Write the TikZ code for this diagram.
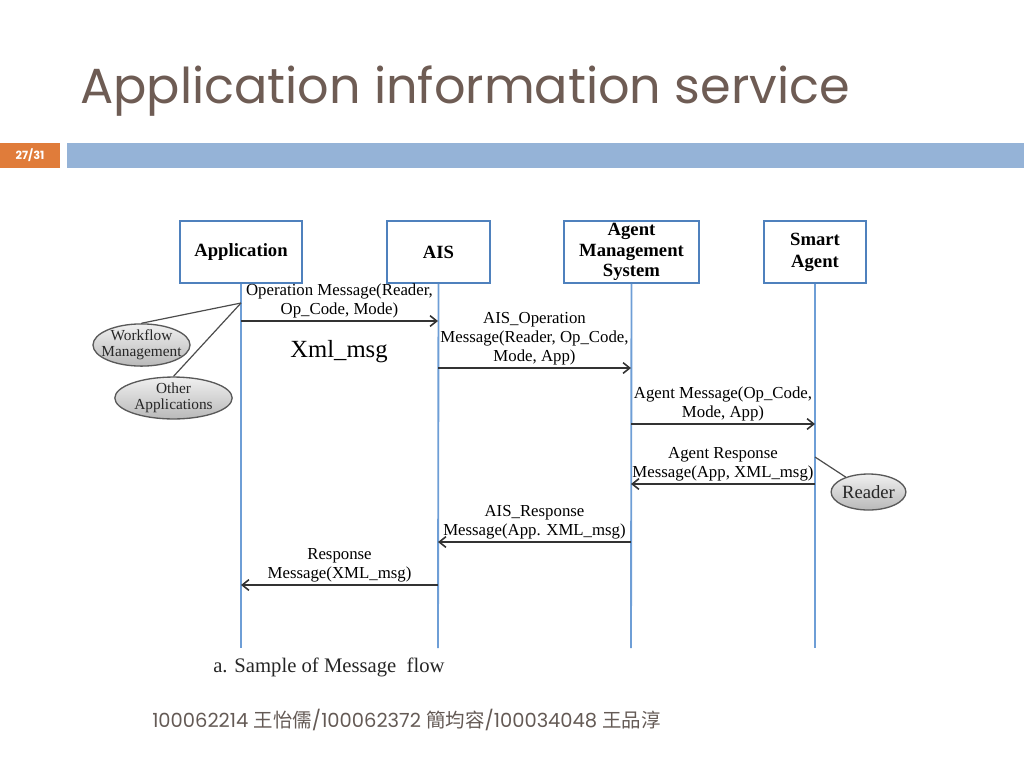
\documentclass[tikz,border=0pt]{standalone}
\usepackage{fontspec}
\setmainfont{Liberation Serif}
\newfontfamily\slidefont{Poppins}
\newfontfamily\cjkfont{Noto Sans CJK TC}
\usetikzlibrary{positioning,shapes.geometric,arrows.meta}

\definecolor{titlebrown}{RGB}{110,92,84}
\definecolor{numorange}{RGB}{224,124,58}
\definecolor{barblue}{RGB}{149,179,215}
\definecolor{boxblue}{RGB}{79,129,189}
\definecolor{lineblue}{RGB}{110,158,214}
\definecolor{footgray}{RGB}{100,90,85}

\newcommand{\zh}[1]{{\cjkfont #1}}

\begin{document}
\begin{tikzpicture}[x=0.75pt,y=-0.75pt,
    lifebox/.style={draw=boxblue,line width=1.2pt,fill=white,align=center,
      font=\fontsize{14}{15.5}\selectfont\bfseries,minimum height=46.5pt,
      inner sep=0pt},
    lifeline/.style={draw=lineblue,line width=1.4pt},
    msg/.style={-{Straight Barb[length=5pt,width=8pt]},draw=black!80,
      line width=1.2pt},
    msglabel/.style={align=center,inner sep=1.5pt,
      font=\fontsize{12.6}{14.4}\selectfont},
    actor/.style={ellipse,draw=black!65,line width=1pt,top color=gray!12,
      bottom color=gray!55,inner sep=0pt,align=center,text=black!85,
      font=\fontsize{11.5}{11.8}\selectfont},
    tie/.style={draw=black!70,line width=0.9pt}]
  \useasboundingbox (0,0) rectangle (1024,768);

  % slide header
  \node[anchor=base west,inner sep=0pt,text=titlebrown,
    font=\slidefont\fontsize{37}{40}\selectfont] (title) at (80,103)
    {Application information service};
  \fill[numorange] (0,143) rectangle (60,168);
  \node[text=white,font=\slidefont\fontsize{8.5}{10}\selectfont\bfseries]
    (pageno) at (30,155.5) {27/31};
  \fill[barblue] (67,143) rectangle (1024,168);

  % objects
  \node[lifebox,minimum width=91.5pt] (app) at (241,252) {Application};
  \node[lifebox,minimum width=77pt] (ais) at (438.5,252) {AIS};
  \node[lifebox,minimum width=101pt] (ams) at (631.5,252)
    {Agent\\Management\\System};
  \node[lifebox,minimum width=76.5pt,font=\fontsize{14}{16.5}\selectfont\bfseries]
    (sa) at (815,252) {Smart\\Agent};

  % lifelines and message levels
  \foreach \who/\x in {app/241,ais/438,ams/631,sa/815} {
    \coordinate (\who-end) at (\x,648);
    \draw[lifeline] (\who.south) -- (\who-end);
    \foreach \k/\y in {1/321,2/368,3/424,4/484,5/542,6/585}
      \coordinate (\who-\k) at (\x,\y);
  }

  \draw[msg] (app-1) -- node[above,msglabel]
    {Operation Message(Reader,\\Op\_Code, Mode)} (ais-1);
  \node[font=\fontsize{18.5}{20}\selectfont] (xml) at (339,352) {Xml\_msg};
  \draw[msg] (ais-2) -- node[above,msglabel]
    {AIS\_Operation\\Message(Reader, Op\_Code,\\Mode, App)} (ams-2);
  \draw[msg] (ams-3) -- node[above,msglabel]
    {Agent Message(Op\_Code,\\Mode, App)} (sa-3);
  \draw[msg] (sa-4) -- node[above,msglabel]
    {Agent Response\\Message(App, XML\_msg)} (ams-4);
  \draw[msg] (ams-5) -- node[above,msglabel]
    {AIS\_Response\\Message(App. XML\_msg)} (ais-5);
  \draw[msg] (ais-6) -- node[above,msglabel]
    {Response\\Message(XML\_msg)} (app-6);

  % external actors
  \node[actor,minimum width=72.75pt,minimum height=29pt,inner xsep=-5pt]
    (wf) at (141.5,345) {Workflow\\Management};
  \node[actor,minimum width=88pt,minimum height=26pt] (oa) at (173.5,398)
    {Other\\Applications};
  \node[actor,minimum width=49.5pt,minimum height=27pt,
    font=\fontsize{14}{15}\selectfont] (rdr) at (868.5,492) {Reader};
  \coordinate (app-w) at (241,303);
  \coordinate (sa-r) at (815,457);
  \draw[tie] (app-w) -- (wf.north);
  \draw[tie] (app-w) -- (oa.north);
  \draw[tie] (sa-r) -- (rdr);

  % caption and footer
  \node[anchor=base west,inner sep=0pt,text=black!85,
    font=\fontsize{15.5}{18}\selectfont] (cap) at (213,672)
    {a. Sample of Message\ \ flow};
  \node[anchor=west,inner sep=0pt,text=footgray,
    font=\slidefont\fontsize{14.6}{16}\selectfont] (foot) at (152,720)
    {100062214 \zh{王怡儒}/100062372 \zh{簡均容}/100034048 \zh{王品淳}};
\end{tikzpicture}
\end{document}
